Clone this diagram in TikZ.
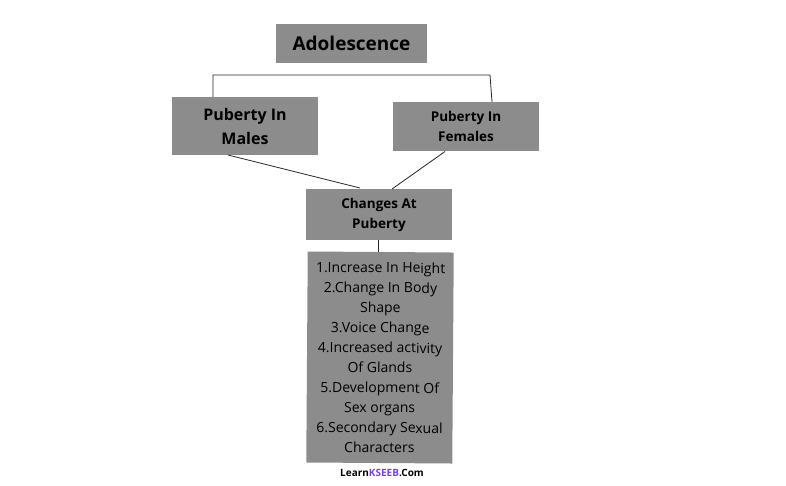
\documentclass[tikz,border=0pt]{standalone}
\usepackage{fontspec}
\setmainfont{Open Sans}
\definecolor{boxgray}{HTML}{8C8C8C}
\definecolor{kpurple}{HTML}{7B3FF2}
\begin{document}
\begin{tikzpicture}[x=1pt,y=-1pt,
  gbox/.style={fill=boxgray,draw=none,inner sep=0,align=center,font=\bfseries},
  ln/.style={draw=black!85,line width=0.8pt}]
\useasboundingbox[fill=white] (0,0) rectangle (786,485);
\node[gbox,minimum width=151pt,minimum height=39pt,font=\bfseries\fontsize{19}{22}\selectfont] (ado) at (351.5,43.5) {Adolescence};
\node[gbox,minimum width=146pt,minimum height=58pt,font=\bfseries\fontsize{16}{24}\selectfont] (male) at (245,126) {Puberty In\\Males};
\node[gbox,minimum width=146pt,minimum height=49pt,font=\bfseries\fontsize{13.5}{20}\selectfont] (fem) at (466,126.5) {Puberty In\\Females};
\node[gbox,minimum width=146pt,minimum height=51pt,font=\bfseries\fontsize{13.5}{20}\selectfont] (chg) at (379,214.5) {Changes At\\Puberty};
\node[gbox,rotate=-0.4,minimum width=146pt,minimum height=211pt,font=\fontsize{14}{20}\selectfont] (list) at (380,357.5) {1.Increase In Height\\2.Change In Body\\Shape\\3.Voice Change\\4.Increased activity\\Of Glands\\5.Development Of\\Sex organs\\6.Secondary Sexual\\Characters};
\coordinate (m1) at (213,75); \coordinate (m2) at (490,75);
\draw[ln] (male.north -| m1) -- (m1) -- (m2) -- (fem.north -| 492,0);
\draw[ln] (228,155) coordinate (ms) -- (360,188) coordinate (ce);
\coordinate (fs) at (445,151.5); \coordinate (ce2) at (392,189);
\draw[ln] (fs) -- (ce2);
\draw[ln] (chg.south -| 378,0) -- (list.north -| 378,0);
\node[font=\bfseries\fontsize{10}{12}\selectfont] (foot) at (382,473) {Learn\textcolor{kpurple}{KSEEB}.Com};
\end{tikzpicture}
\end{document}
